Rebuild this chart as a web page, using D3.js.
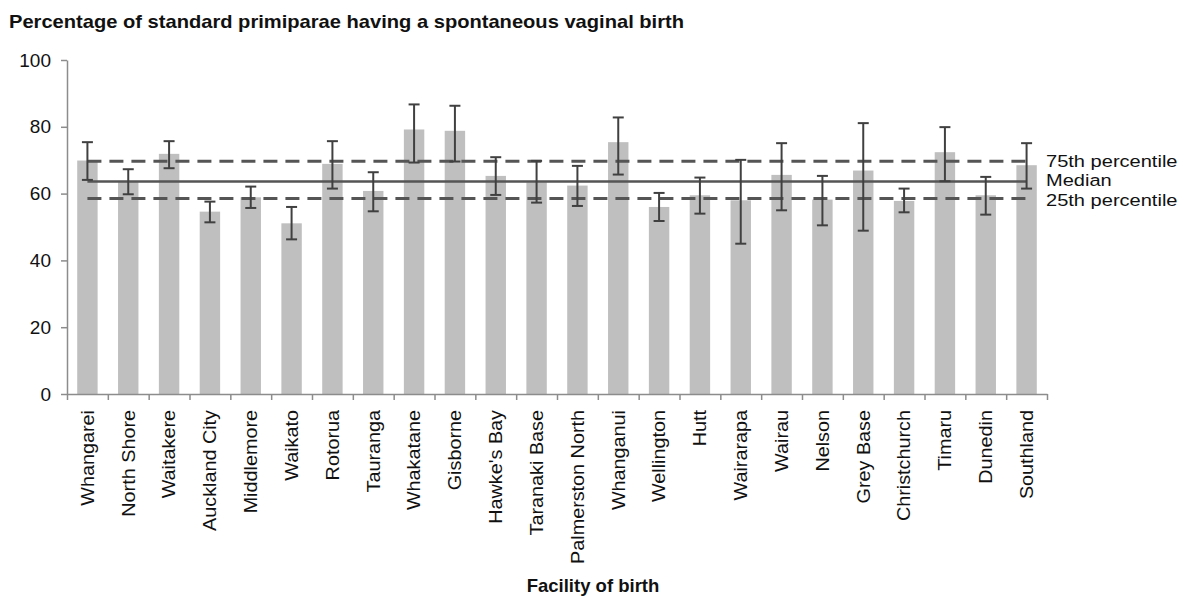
<!DOCTYPE html>
<html>
<head>
<meta charset="utf-8">
<script src="https://cdn.jsdelivr.net/npm/d3@7"></script>
<style>
  body { margin: 0; background: #fff; }
  svg { display: block; font-family: "Liberation Sans", Arial, sans-serif; }
</style>
</head>
<body>
<svg id="chart"></svg>
<script>
const facilities = ["Whangarei", "North Shore", "Waitakere", "Auckland City", "Middlemore", "Waikato",
  "Rotorua", "Tauranga", "Whakatane", "Gisborne", "Hawke's Bay", "Taranaki Base", "Palmerston North",
  "Whanganui", "Wellington", "Hutt", "Wairarapa", "Wairau", "Nelson", "Grey Base", "Christchurch",
  "Timaru", "Dunedin", "Southland"];
const percent = [69.9, 63.8, 71.9, 54.6, 58.9, 51.1, 68.9, 60.8, 79.2, 78.8, 65.3, 63.4, 62.4,
  75.4, 56.0, 59.5, 58.0, 65.6, 58.2, 66.9, 57.8, 72.4, 59.5, 68.5];
const ciLow = [64.1, 59.8, 67.6, 51.4, 55.7, 46.3, 61.5, 54.7, 69.3, 69.6, 59.6, 57.3, 56.3,
  65.7, 51.8, 54.0, 45.0, 55.0, 50.5, 48.9, 54.4, 63.7, 53.7, 61.5];
const ciHigh = [75.4, 67.3, 75.7, 57.6, 62.1, 56.0, 75.7, 66.4, 86.7, 86.3, 70.9, 69.8, 68.3,
  82.8, 60.2, 64.8, 70.1, 75.1, 65.3, 81.1, 61.5, 79.9, 65.0, 75.1];
const refLabels = ["75th percentile", "Median", "25th percentile"];
const refValues = [69.7, 63.6, 58.5];
const yTicks = [0, 20, 40, 60, 80, 100];

const width = 1184;
const height = 599;
const margin = { top: 60, right: 137, bottom: 205, left: 67 };
const plotW = width - margin.left - margin.right;
const plotH = height - margin.top - margin.bottom;

const svg = d3.select("#chart").attr("width", width).attr("height", height);
const g = svg.append("g").attr("transform", "translate(" + margin.left + "," + margin.top + ")");

const x = d3.scaleBand().domain(facilities).range([0, plotW]).paddingInner(0.5).paddingOuter(0.25);
const xEdge = d3.scaleLinear().domain([0, facilities.length]).range([0, plotW]);
const y = d3.scaleLinear().domain([0, 100]).range([plotH, 0]);

// title
svg.append("text")
  .attr("x", 9)
  .attr("y", 28)
  .attr("font-size", "19px")
  .attr("font-weight", "bold")
  .attr("fill", "#111")
  .attr("textLength", 675)
  .attr("lengthAdjust", "spacingAndGlyphs")
  .text("Percentage of standard primiparae having a spontaneous vaginal birth");

// bars
g.selectAll(".bar")
  .data(facilities)
  .enter()
  .append("rect")
  .attr("class", "bar")
  .attr("x", d => x(d))
  .attr("width", x.bandwidth())
  .attr("y", (d, i) => y(percent[i]))
  .attr("height", (d, i) => y(0) - y(percent[i]))
  .attr("fill", "#bfbfbf");

// reference lines
const x0 = x(facilities[0]) + x.bandwidth() / 2;
const x1 = x(facilities[facilities.length - 1]) + x.bandwidth() / 2;
refValues.forEach((v, i) => {
  g.append("line")
    .attr("x1", x0).attr("x2", x1)
    .attr("y1", y(v)).attr("y2", y(v))
    .attr("stroke", "#555")
    .attr("stroke-width", i === 1 ? 2.5 : 3)
    .attr("stroke-dasharray", i === 1 ? null : "14,8");
});

// error bars
const err = g.append("g").attr("stroke", "#404040").attr("stroke-width", 2);
facilities.forEach((f, i) => {
  const cx = x(f) + x.bandwidth() / 2;
  err.append("line").attr("x1", cx).attr("x2", cx).attr("y1", y(ciLow[i])).attr("y2", y(ciHigh[i]));
  err.append("line").attr("x1", cx - 5.5).attr("x2", cx + 5.5).attr("y1", y(ciLow[i])).attr("y2", y(ciLow[i]));
  err.append("line").attr("x1", cx - 5.5).attr("x2", cx + 5.5).attr("y1", y(ciHigh[i])).attr("y2", y(ciHigh[i]));
});

// reference labels (the source text is a bit wide, so stretch along x)
const labelShift = [-0.5, -1.5, 1];
refLabels.forEach((t, i) => {
  g.append("text")
    .attr("transform", "translate(" + (plotW - 1) + "," + (y(refValues[i]) + labelShift[i]) + ") scale(1.18,1)")
    .attr("dy", "0.35em")
    .attr("font-size", "17px")
    .attr("fill", "#111")
    .text(t);
});

// y axis
const yAxis = g.append("g")
  .call(d3.axisLeft(y).tickValues(yTicks).tickSize(6).tickSizeOuter(0).tickPadding(10));
yAxis.select(".domain").attr("stroke", "#8c8c8c").attr("stroke-width", 1.5);
yAxis.selectAll(".tick line").attr("stroke", "#8c8c8c").attr("stroke-width", 1.5);
yAxis.selectAll(".tick text").attr("font-size", "19px").attr("fill", "#111")
  .attr("font-family", "Liberation Sans, Arial, sans-serif");

// x axis ticks at category boundaries
const xAxis = g.append("g")
  .attr("transform", "translate(0," + plotH + ")")
  .call(d3.axisBottom(xEdge).tickValues(d3.range(facilities.length + 1)).tickSize(6).tickSizeOuter(0).tickFormat(""));
xAxis.select(".domain").attr("stroke", "#8c8c8c").attr("stroke-width", 1.5);
xAxis.selectAll(".tick line").attr("stroke", "#8c8c8c").attr("stroke-width", 1.5);

// x labels
g.append("g")
  .selectAll("text")
  .data(facilities)
  .enter()
  .append("text")
  .attr("transform", d => "translate(" + (x(d) + x.bandwidth() / 2) + "," + (plotH + 16) + ") rotate(-90) scale(1.1,1)")
  .attr("text-anchor", "end")
  .attr("dy", "0.35em")
  .attr("font-size", "18px")
  .attr("fill", "#111")
  .text(d => d);

// x axis title
svg.append("text")
  .attr("x", 593)
  .attr("y", 592)
  .attr("text-anchor", "middle")
  .attr("font-size", "18.5px")
  .attr("font-weight", "bold")
  .attr("fill", "#111")
  .text("Facility of birth");
</script>
</body>
</html>
